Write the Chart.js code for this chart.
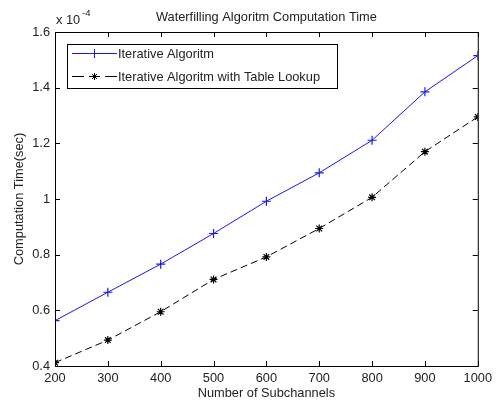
<!DOCTYPE html>
<html>
<head>
<meta charset="utf-8">
<script src="https://cdn.jsdelivr.net/npm/chart.js@4"></script>
<style>
  html, body { margin: 0; padding: 0; background: #fff; }
  #wrap { width: 497px; height: 401px; position: relative; }
</style>
</head>
<body>
<div id="wrap"><canvas id="chart"></canvas></div>
<script>
// Values (y in units of 1e-4 sec)
const subchannels = [200, 300, 400, 500, 600, 700, 800, 900, 1000];
const iterativeTime = [0.563, 0.665, 0.766, 0.876, 0.992, 1.094, 1.211, 1.385, 1.515];
const lookupTime = [0.412, 0.493, 0.595, 0.711, 0.792, 0.894, 1.006, 1.17, 1.295];
const xTicks = [200, 300, 400, 500, 600, 700, 800, 900, 1000];
const yTicks = [0.4, 0.6, 0.8, 1, 1.2, 1.4, 1.6];

const chartTitle = 'Waterfilling Algoritm Computation Time';
const xLabel = 'Number of Subchannels';
const yLabel = 'Computation Time(sec)';
const seriesNames = ['Iterative Algoritm', 'Iterative Algoritm with Table Lookup'];

const FONT = 'Liberation Sans, Arial, Helvetica, sans-serif';
const FS = 12.8;
const BLUE = '#1a1ae6';
const TEXT = '#222';

// draws the MATLAB style box, inward ticks, title, exponent and legend
const matlabFrame = {
    id: 'matlabFrame',
    afterDraw(chart) {
        const { ctx, chartArea: a, scales } = chart;
        ctx.save();
        ctx.strokeStyle = '#000';
        ctx.lineWidth = 1;
        ctx.strokeRect(a.left + 0.5, a.top + 0.5, a.right - a.left, a.bottom - a.top);

        const t = 5;
        ctx.beginPath();
        xTicks.forEach(v => {
            const x = Math.round(scales.x.getPixelForValue(v)) + 0.5;
            ctx.moveTo(x, a.bottom); ctx.lineTo(x, a.bottom - t);
            ctx.moveTo(x, a.top); ctx.lineTo(x, a.top + t);
        });
        yTicks.forEach(v => {
            const y = Math.round(scales.y.getPixelForValue(v)) + 0.5;
            ctx.moveTo(a.left, y); ctx.lineTo(a.left + t, y);
            ctx.moveTo(a.right, y); ctx.lineTo(a.right - t, y);
        });
        ctx.stroke();

        // title
        ctx.fillStyle = TEXT;
        ctx.font = FS + 'px ' + FONT;
        ctx.textAlign = 'center';
        ctx.textBaseline = 'alphabetic';
        ctx.fillText(chartTitle, (a.left + a.right) / 2, 21);

        // exponent label
        ctx.textAlign = 'left';
        ctx.fillText('x 10', a.left + 1, 24);
        ctx.font = '9.5px ' + FONT;
        ctx.fillText('-4', a.left + 27, 16);

        // legend
        const lx = 67, ly = 44, lw = 270, lh = 44;
        ctx.fillStyle = '#fff';
        ctx.fillRect(lx, ly, lw, lh);
        ctx.strokeStyle = '#000';
        ctx.strokeRect(lx + 0.5, ly + 0.5, lw, lh);

        ctx.font = FS + 'px ' + FONT;
        ctx.textBaseline = 'middle';
        const rows = [ly + 9, ly + 32];
        // row 1: solid blue with +
        ctx.strokeStyle = BLUE;
        ctx.beginPath();
        ctx.moveTo(lx + 5, rows[0] + 0.5); ctx.lineTo(lx + 50, rows[0] + 0.5);
        ctx.moveTo(lx + 27.5, rows[0] - 4); ctx.lineTo(lx + 27.5, rows[0] + 5);
        ctx.stroke();
        ctx.fillStyle = TEXT;
        ctx.fillText(seriesNames[0], lx + 51, rows[0] + 1);
        // row 2: dashed black with *
        ctx.strokeStyle = '#000';
        ctx.beginPath();
        ctx.moveTo(lx + 5, rows[1] + 0.5); ctx.lineTo(lx + 17, rows[1] + 0.5);
        ctx.moveTo(lx + 22, rows[1] + 0.5); ctx.lineTo(lx + 33, rows[1] + 0.5);
        ctx.moveTo(lx + 38, rows[1] + 0.5); ctx.lineTo(lx + 50, rows[1] + 0.5);
        const cx = lx + 27.5, cy = rows[1] + 0.5, r = 3.5;
        ctx.moveTo(cx - r, cy); ctx.lineTo(cx + r, cy);
        ctx.moveTo(cx, cy - r); ctx.lineTo(cx, cy + r);
        ctx.moveTo(cx - r * 0.7, cy - r * 0.7); ctx.lineTo(cx + r * 0.7, cy + r * 0.7);
        ctx.moveTo(cx - r * 0.7, cy + r * 0.7); ctx.lineTo(cx + r * 0.7, cy - r * 0.7);
        ctx.stroke();
        ctx.fillText(seriesNames[1], lx + 51, rows[1] + 1);
        ctx.restore();
    }
};

new Chart(document.getElementById('chart'), {
    type: 'line',
    data: {
        datasets: [
            {
                label: seriesNames[0],
                data: subchannels.map((x, i) => ({ x: x, y: iterativeTime[i] })),
                borderColor: BLUE,
                borderWidth: 1,
                pointStyle: 'cross',
                pointRadius: 4.5,
                pointBorderColor: BLUE,
                pointBorderWidth: 1.2,
                tension: 0,
                fill: false
            },
            {
                label: seriesNames[1],
                data: subchannels.map((x, i) => ({ x: x, y: lookupTime[i] })),
                borderColor: '#000',
                borderWidth: 1,
                borderDash: [7, 4],
                pointStyle: 'star',
                pointRadius: 4,
                pointBorderColor: '#000',
                pointBorderWidth: 1.2,
                tension: 0,
                fill: false
            }
        ]
    },
    options: {
        responsive: true,
        maintainAspectRatio: false,
        animation: false,
        layout: { padding: { top: 32, right: 16, left: 0, bottom: 0 } },
        plugins: {
            legend: { display: false },
            tooltip: { enabled: false },
            title: { display: false }
        },
        scales: {
            x: {
                type: 'linear',
                min: 200,
                max: 1000,
                afterBuildTicks: s => { s.ticks = xTicks.map(v => ({ value: v })); },
                afterFit: s => { s.height = 35; },
                grid: { display: false, drawTicks: false },
                border: { display: false },
                ticks: {
                    color: TEXT,
                    padding: 5,
                    maxRotation: 0,
                    font: { family: FONT, size: FS },
                    callback: v => String(v)
                },
                title: {
                    display: true,
                    text: xLabel,
                    color: TEXT,
                    padding: { top: 0, bottom: 0 },
                    font: { family: FONT, size: FS }
                }
            },
            y: {
                type: 'linear',
                min: 0.4,
                max: 1.6,
                afterBuildTicks: s => { s.ticks = yTicks.map(v => ({ value: v })); },
                afterFit: s => { s.width = 55; },
                grid: { display: false, drawTicks: false },
                border: { display: false },
                ticks: {
                    color: TEXT,
                    padding: 5,
                    font: { family: FONT, size: FS },
                    callback: v => String(Math.round(v * 10) / 10)
                },
                title: {
                    display: true,
                    text: yLabel,
                    color: TEXT,
                    padding: { top: 12, bottom: 0 },
                    font: { family: FONT, size: FS }
                }
            }
        }
    },
    plugins: [matlabFrame]
});
</script>
</body>
</html>
